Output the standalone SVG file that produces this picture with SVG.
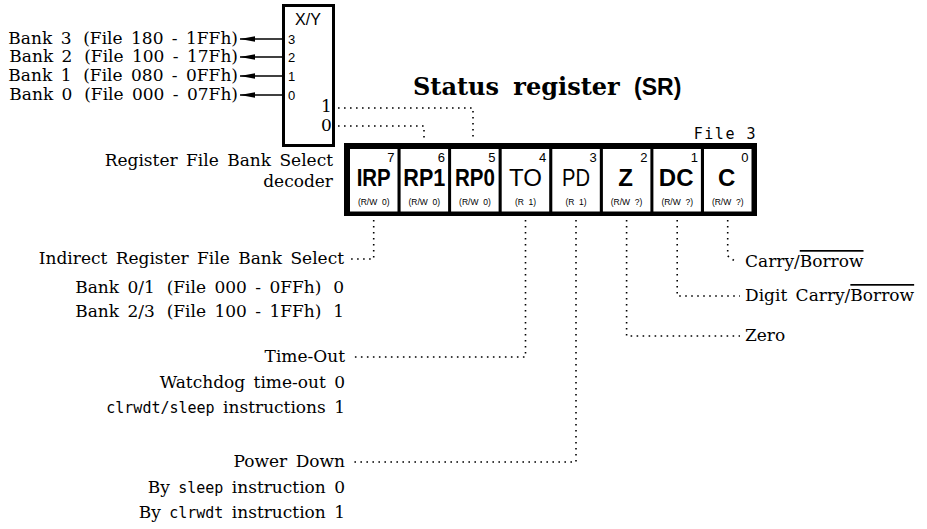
<svg xmlns="http://www.w3.org/2000/svg" width="927" height="529" viewBox="0 0 927 529">
<style>
.sf{font-family:"DejaVu Serif","Liberation Serif",serif;font-size:17px;fill:#000;word-spacing:3px}
.lt{text-anchor:end}
.mono{font-family:"DejaVu Sans Mono","Liberation Mono",monospace;font-size:15px;word-spacing:0}
.ss{font-family:"Liberation Sans",Arial,sans-serif;fill:#000}
.num{font-size:13px;text-anchor:end}
.lab{font-size:24px;font-weight:bold;text-anchor:middle}
.labr{font-size:24px;font-weight:normal;text-anchor:middle}
.sub{font-size:8.5px;text-anchor:middle;white-space:pre}
.dot{fill:none;stroke:#000;stroke-width:1.6;stroke-dasharray:1.6 4.4}
.arr{fill:none;stroke:#000;stroke-width:1.5}
.cell{fill:#fff}
.ov{text-decoration:overline}
</style>
<defs>
<marker id="ah" viewBox="0 0 15 6" refX="15" refY="3" markerWidth="15" markerHeight="6" orient="auto" markerUnits="userSpaceOnUse">
<path d="M0,0.3 L15,3 L0,5.7 z" fill="#000"/>
</marker>
</defs>
<rect width="927" height="529" fill="#fff"/>

<g id="decoder">
<rect x="283.5" y="5.5" width="50" height="140" fill="#fff" stroke="#000" stroke-width="3"/>
<text class="ss" x="308" y="25" font-size="16" text-anchor="middle">X/Y</text>
<text class="ss" x="288" y="44" font-size="13">3</text>
<text class="ss" x="288" y="62" font-size="13">2</text>
<text class="ss" x="288" y="81" font-size="13">1</text>
<text class="ss" x="288" y="100" font-size="13">0</text>
<text class="sf" x="321" y="112" font-size="14">1</text>
<text class="sf" x="321" y="131" font-size="14">0</text>
</g>

<g id="bank-labels">
<text class="sf lt" x="238" y="44">Bank 3 &#8201;(File 180 - 1FFh)</text>
<text class="sf lt" x="238" y="62">Bank 2 &#8201;(File 100 - 17Fh)</text>
<text class="sf lt" x="238" y="81">Bank 1 &#8201;(File 080 - 0FFh)</text>
<text class="sf lt" x="238" y="100">Bank 0 &#8201;(File 000 - 07Fh)</text>
</g>

<g id="title">
<text x="413" y="95" font-family="DejaVu Serif, Liberation Serif, serif" font-size="24" font-weight="bold" word-spacing="6">Status register <tspan font-family="Liberation Sans, sans-serif" font-size="23">(SR)</tspan></text>
</g>

<g id="decoder-label">
<text class="sf lt" x="333" y="166">Register File Bank Select</text>
<text class="sf lt" x="333" y="187">decoder</text>
</g>

<g id="register">
<text x="757" y="139" font-family="DejaVu Sans Mono, Liberation Mono, monospace" font-size="15" letter-spacing="1.5" text-anchor="end">File 3</text>
<rect x="344" y="143" width="413" height="73" fill="#000"/>
<g id="bit7"><rect class="cell" x="350" y="149" width="47.5" height="62.5"/><text class="ss num" x="394.5" y="162">7</text><text class="ss lab" x="373.7" y="186" textLength="34" lengthAdjust="spacingAndGlyphs">IRP</text><text class="ss sub" x="373.7" y="205">(R/W  0)</text></g>
<g id="bit6"><rect class="cell" x="400.6" y="149" width="47.5" height="62.5"/><text class="ss num" x="445.1" y="162">6</text><text class="ss lab" x="424.3" y="186" textLength="42" lengthAdjust="spacingAndGlyphs">RP1</text><text class="ss sub" x="424.3" y="205">(R/W  0)</text></g>
<g id="bit5"><rect class="cell" x="451.1" y="149" width="47.5" height="62.5"/><text class="ss num" x="495.6" y="162">5</text><text class="ss lab" x="474.9" y="186" textLength="40" lengthAdjust="spacingAndGlyphs">RP0</text><text class="ss sub" x="474.9" y="205">(R/W  0)</text></g>
<g id="bit4"><rect class="cell" x="501.7" y="149" width="47.5" height="62.5"/><text class="ss num" x="546.2" y="162">4</text><text class="ss labr" x="525.5" y="186">TO</text><text class="ss sub" x="525.5" y="205">(R  1)</text></g>
<g id="bit3"><rect class="cell" x="552.3" y="149" width="47.5" height="62.5"/><text class="ss num" x="596.8" y="162">3</text><text class="ss labr" x="576" y="186" textLength="28" lengthAdjust="spacingAndGlyphs">PD</text><text class="ss sub" x="576" y="205">(R  1)</text></g>
<g id="bit2"><rect class="cell" x="602.9" y="149" width="47.5" height="62.5"/><text class="ss num" x="647.4" y="162">2</text><text class="ss lab" x="625.6" y="186">Z</text><text class="ss sub" x="626.6" y="205">(R/W  ?)</text></g>
<g id="bit1"><rect class="cell" x="653.4" y="149" width="47.5" height="62.5"/><text class="ss num" x="697.9" y="162">1</text><text class="ss lab" x="676.2" y="186">DC</text><text class="ss sub" x="677.2" y="205">(R/W  ?)</text></g>
<g id="bit0"><rect class="cell" x="704" y="149" width="47.5" height="62.5"/><text class="ss num" x="748.5" y="162">0</text><text class="ss lab" x="726.7" y="186">C</text><text class="ss sub" x="727.7" y="205">(R/W  ?)</text></g>
</g>

<g id="left-labels">
<text class="sf lt" x="344" y="264">Indirect Register File Bank Select</text>
<text class="sf lt" x="344" y="293">Bank 0/1 &#8201;(File 000 - 0FFh) &#8201;0</text>
<text class="sf lt" x="344" y="317">Bank 2/3 &#8201;(File 100 - 1FFh) &#8201;1</text>
<text class="sf lt" x="345" y="362">Time-Out</text>
<text class="sf lt" x="345" y="388">Watchdog time-out 0</text>
<text class="sf lt" x="345" y="413"><tspan class="mono">clrwdt/sleep</tspan> instructions 1</text>
<text class="sf lt" x="345" y="467">Power Down</text>
<text class="sf lt" x="345" y="493">By <tspan class="mono">sleep</tspan> instruction 0</text>
<text class="sf lt" x="345" y="518">By <tspan class="mono">clrwdt</tspan> instruction 1</text>
</g>

<g id="right-labels">
<text class="sf" x="745" y="267">Carry/<tspan class="ov">Borrow</tspan></text>
<text class="sf" x="745" y="301">Digit Carry/<tspan class="ov">Borrow</tspan></text>
<text class="sf" x="745" y="341">Zero</text>
</g>

<g id="connectors">
<line class="arr" x1="283" y1="39" x2="240" y2="39" marker-end="url(#ah)"/>
<line class="arr" x1="283" y1="57" x2="240" y2="57" marker-end="url(#ah)"/>
<line class="arr" x1="283" y1="76" x2="240" y2="76" marker-end="url(#ah)"/>
<line class="arr" x1="283" y1="95" x2="240" y2="95" marker-end="url(#ah)"/>
<path class="dot" d="M338,108 H473 V141"/>
<path class="dot" d="M338,126 H424 V141"/>
<path class="dot" d="M373.7,220 V259 H348"/>
<path class="dot" d="M525.5,220 V357 H352"/>
<path class="dot" d="M576,220 V462 H350"/>
<path class="dot" d="M626.6,220 V336 H740"/>
<path class="dot" d="M677.2,220 V296 H740"/>
<path class="dot" d="M727.7,220 V256 L736,262"/>
</g>
</svg>
